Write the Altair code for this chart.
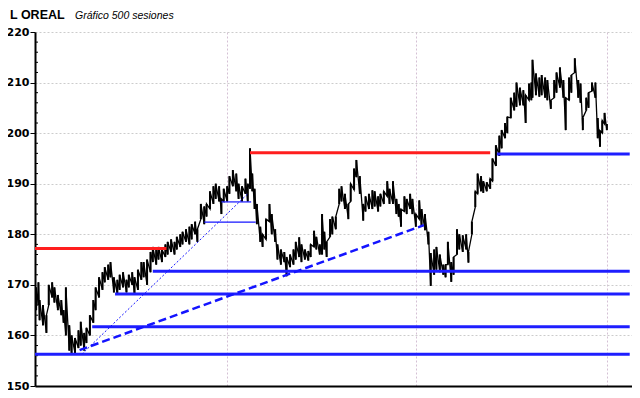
import altair as alt
import pandas as pd

# ---- price series (session, low, high) ----
sesiones = [1, 3, 4, 7, 10, 12, 15, 17, 20, 23, 25, 27, 30, 32, 35, 38, 40, 43, 45, 48,
            51, 53, 56, 59, 61, 64, 66, 69, 72, 74, 77, 80, 82, 85, 87, 90, 93, 95, 98, 101,
            103, 106, 108, 111, 114, 116, 119, 122, 124, 127, 129, 132, 135, 137, 140, 142, 145, 148, 150, 153,
            156, 158, 161, 163, 165, 168, 170, 173, 176, 178, 181, 184, 186, 188, 190, 192, 194, 197, 199, 202,
            205, 207, 210, 212, 215, 218, 220, 223, 226, 228, 231, 233, 236, 239, 241, 244, 246, 249, 251, 253,
            255, 258, 260, 263, 266, 268, 271, 274, 276, 279, 281, 284, 287, 289, 292, 295, 297, 300, 302, 305,
            308, 310, 313, 316, 318, 320, 323, 325, 328, 330, 333, 336, 338, 341, 344, 346, 349, 351, 354, 357,
            359, 361, 364, 366, 369, 371, 374, 377, 379, 382, 385, 387, 390, 392, 395, 398, 400, 403, 406, 408,
            411, 413, 416, 419, 421, 424, 427, 429, 432, 434, 435, 438, 441, 443, 446, 448, 451, 454, 456, 459,
            462, 464, 467, 469, 472, 475, 477, 479, 482, 484, 487, 490, 492, 494, 496, 498, 500]
minimos = [165, 166, 163, 162, 160.5, 166, 167.5, 166.5, 165, 164, 162.5, 160, 157, 156.3, 156.5, 157.5, 158, 157, 158.5, 160,
           162.5, 165, 167.5, 169, 170.5, 171, 171.5, 168.5, 168.2, 169, 169.5, 168.5, 169.5, 170, 168, 169, 171, 171.5, 170, 172.5,
           174.5, 174, 175, 174.5, 175.5, 176, 176.5, 176, 177, 177.5, 178, 178.5, 178, 179, 180, 178.5, 183, 182, 183.5, 185,
           186, 187, 186.5, 184, 186.5, 186.5, 188, 189.5, 188.5, 187, 186.5, 188, 186.5, 189, 188.5, 185, 182, 178.5, 177.5, 179,
           182.5, 180, 178.5, 175, 174, 174.5, 171.7, 173.5, 174, 175, 175.5, 174.5, 175, 174.8, 175.5, 177.5, 177, 176, 176, 177,
           175.5, 179.5, 180, 181, 186, 186.5, 185, 183, 186.5, 188.8, 191.3, 188, 182.7, 184.5, 185, 185, 185.5, 184.5, 185.5, 186,
           187.5, 186, 186, 184, 183.5, 181.5, 184.5, 184, 185, 184, 181.5, 183, 181.5, 180.8, 178, 169.8, 172, 173, 172.5, 172,
           171.5, 174, 170.6, 172, 176, 177, 176.5, 177, 174.4, 180, 185.4, 188, 188.5, 188.2, 188.5, 189, 190.5, 193.5, 195.5, 197,
           199, 200, 203, 204.5, 205.2, 205.5, 205.5, 202, 206.5, 206.5, 207, 207.5, 207.2, 207.5, 207, 206.5, 204.8, 207, 208, 209,
           207, 200.6, 206.5, 208, 212, 207, 206, 200.6, 204.5, 205, 208.3, 207, 199, 197.3, 200, 201.8, 200.6]
maximos = [169.5, 170.5, 167, 166, 164, 170, 170.5, 169.5, 168, 167, 165, 169.5, 162, 160, 159.5, 161, 162.7, 160.5, 161.5, 164,
           167, 169.5, 171.5, 172.5, 173.5, 174, 174.5, 171.5, 171, 172, 172.5, 171, 172, 172.5, 171.5, 173, 174.5, 174.5, 175, 176.5,
           177.5, 177.2, 177.5, 177, 178, 178.5, 179, 178.5, 179.5, 180, 180.5, 181, 181.5, 182, 182.5, 181, 186, 185.5, 186, 188.5,
           189.5, 190, 189.5, 187, 189, 189.5, 191.5, 192.7, 192, 190, 189.5, 191, 190, 197, 192, 189, 186, 181.5, 180, 183,
           186, 184, 181, 178, 177, 176.5, 175.5, 176, 177, 178.5, 179.4, 178, 177, 176.7, 178, 180.7, 179.5, 178, 184, 180.5,
           178.5, 183, 183.5, 183.5, 189, 189.5, 188, 186, 190, 193, 194.7, 191.5, 186, 187.5, 188, 188.7, 188.5, 187.5, 188, 188.5,
           190.5, 189, 190.5, 187, 186, 185, 187.5, 187, 188, 187, 184, 186.7, 185, 184, 180.5, 176.3, 177, 177.5, 176, 174,
           174, 178.5, 174.5, 175.5, 181, 180, 179.8, 180, 176.5, 182.5, 188.5, 192, 191.5, 190.5, 190.3, 191, 195, 197.6, 199.5, 200.6,
           202, 203.2, 207, 208, 210, 209, 208.5, 207.5, 209.8, 210, 214.5, 211.8, 211, 211.5, 211, 210.5, 206.5, 210.5, 212, 213,
           210.5, 207, 211, 211.5, 214.8, 210.5, 209.8, 203, 207, 208, 210, 210, 203, 200.5, 202.5, 204, 201.8]

# ---- axis ticks ----
y_mayores = [150, 160, 170, 180, 190, 200, 210, 220]
y_menores = [152, 154, 156, 158, 162, 164, 166, 168, 172, 174, 176, 178, 182, 184, 186, 188,
             192, 194, 196, 198, 202, 204, 206, 208, 212, 214, 216, 218]
x_rejilla = [168, 333, 500]

# ---- support / resistance levels ----
rojo_valor = [177.2, 196.1]
rojo_desde = [0, 188]
rojo_hasta = [115, 398]

azul_valor = [195.9, 172.7, 168.2, 161.7, 156.3]
azul_desde = [404, 103, 70, 50, 0]
azul_hasta = [520, 520, 520, 520, 520]

fino_valor = [186.4, 182.4]
fino_desde = [163, 148]
fino_hasta = [189, 193]

# trend lines: start session, start value, end session, end value
punteada = [41, 156.3, 186, 188.0]
discontinua = [39, 157.1, 340, 181.8]

x_dom = [0, 522]
y_dom = [150, 220]

precio = pd.DataFrame({"sesion": sesiones, "minimo": minimos, "maximo": maximos})
rows = []
for k, (s, lo, hi) in enumerate(zip(sesiones, minimos, maximos)):
    rows.append({"sesion": s, "valor": lo, "orden": 2 * k})
    rows.append({"sesion": s, "valor": hi, "orden": 2 * k + 1})
zigzag = pd.DataFrame(rows)

xs = alt.Scale(domain=x_dom, nice=False, zero=False)
ys = alt.Scale(domain=y_dom, nice=False, zero=False)

x_axis = alt.Axis(values=x_rejilla, labels=False, ticks=False, title=None,
                  domainColor="black", domainWidth=2, grid=True,
                  gridColor="#d4c0d4", gridDash=[2, 2], gridWidth=1)
y_axis = alt.Axis(values=y_mayores, title=None, labelOverlap=False,
                  labelFont="DejaVu Sans", labelFontWeight="bold", labelFontSize=11,
                  labelColor="black", labelPadding=1,
                  tickColor="black", tickWidth=1, tickSize=5,
                  domainColor="black", domainWidth=2,
                  grid=True, gridColor="#cccccc", gridDash=[2, 2], gridWidth=1)

barras = alt.Chart(precio).mark_rule(color="black", strokeWidth=2).encode(
    x=alt.X("sesion:Q", scale=xs, axis=x_axis),
    y=alt.Y("minimo:Q", scale=ys, axis=y_axis),
    y2="maximo:Q",
)
linea = alt.Chart(zigzag).mark_line(color="black", strokeWidth=1.3).encode(
    x=alt.X("sesion:Q", scale=xs),
    y=alt.Y("valor:Q", scale=ys),
    order="orden:Q",
)

menores = alt.Chart(pd.DataFrame({"v": y_menores})).mark_rule(color="black", strokeWidth=1).encode(
    x=alt.value(0), x2=alt.value(3), y=alt.Y("v:Q", scale=ys))

def niveles(valores, desde, hasta, color, ancho):
    df = pd.DataFrame({"v": valores, "a": desde, "b": hasta})
    return alt.Chart(df).mark_rule(color=color, strokeWidth=ancho).encode(
        x=alt.X("a:Q", scale=xs), x2="b:Q", y=alt.Y("v:Q", scale=ys))

rojos = niveles(rojo_valor, rojo_desde, rojo_hasta, "#ff1e1e", 3)
azules = niveles(azul_valor, azul_desde, azul_hasta, "#1e1eff", 3)
finos = niveles(fino_valor, fino_desde, fino_hasta, "#1414ff", 1.2)

def tendencia(t, dash, ancho):
    df = pd.DataFrame({"a": [t[0]], "va": [t[1]], "b": [t[2]], "vb": [t[3]]})
    return alt.Chart(df).mark_rule(color="#1414ff", strokeWidth=ancho, strokeDash=dash).encode(
        x=alt.X("a:Q", scale=xs), x2="b:Q", y=alt.Y("va:Q", scale=ys), y2="vb:Q")

t1 = tendencia(punteada, [2, 2], 1)
t2 = tendencia(discontinua, [8, 4], 2.5)

titulo = alt.Chart(pd.DataFrame({"t": ["L OREAL"]})).mark_text(
    align="left", baseline="alphabetic", font="Liberation Sans", fontWeight="bold",
    fontSize=12.5, color="black").encode(x=alt.value(-25), y=alt.value(-13), text="t:N")
subtitulo = alt.Chart(pd.DataFrame({"t": ["Gráfico 500 sesiones"]})).mark_text(
    align="left", baseline="alphabetic", font="Liberation Sans", fontStyle="italic",
    fontSize=10.5, color="black").encode(x=alt.value(40), y=alt.value(-13), text="t:N")

chart = alt.layer(barras, linea, menores, rojos, azules, finos, t1, t2, titulo, subtitulo).properties(
    width=597, height=354,
    autosize=alt.AutoSizeParams(type="none"),
    padding={"left": 27, "top": 24, "right": 0, "bottom": 6},
).configure_view(stroke=None)

chart.save("out.html", embed_options={"renderer": "svg", "actions": False})
